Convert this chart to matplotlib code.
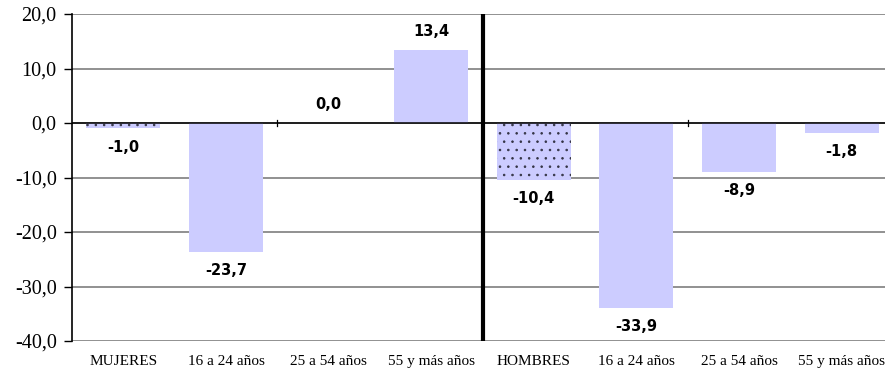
import matplotlib.pyplot as plt
import numpy as np

categories = ['MUJERES', '16 a 24 años', '25 a 54 años', '55 y más años',
              'HOMBRES', '16 a 24 años', '25 a 54 años', '55 y más años']
values = [-1.0, -23.7, 0.0, 13.4, -10.4, -33.9, -8.9, -1.8]
totals = [0, 4]  # MUJERES / HOMBRES bars get the dotted fill
yticks = [-40, -30, -20, -10, 0, 10, 20]

plt.rcParams['hatch.linewidth'] = 0.6

fig = plt.figure(figsize=(8.85, 3.76), dpi=100)
ax = fig.add_axes([72 / 885, 35 / 376, 821 / 885, 327 / 376])

x = np.arange(len(categories))
bars = ax.bar(x, values, width=0.72, color='#ccccff', linewidth=0, zorder=2)
for i in totals:
    bars[i].set_hatch('..')
    bars[i].set_edgecolor('#333344')

ax.set_xlim(-0.5, len(categories) - 0.5)
ax.set_ylim(-40, 20)
ax.set_yticks(yticks)
ax.set_yticklabels(['{:.1f}'.format(v).replace('.', ',') for v in yticks],
                   family='Liberation Serif', fontsize=14.5)
ax.set_xticks(x)
ax.set_xticklabels(categories, family='Liberation Serif', fontsize=11)
ax.tick_params(axis='x', length=0, pad=10)
ax.tick_params(axis='y', length=6, width=1, pad=5, direction='out')

ax.yaxis.grid(True, color='#888888', linewidth=1.3, zorder=0)
ax.set_axisbelow(True)
for s in ['top', 'right', 'bottom']:
    ax.spines[s].set_visible(False)
ax.spines['left'].set_linewidth(1.2)

# zero line with small category ticks
ax.axhline(0, color='black', linewidth=1.1, zorder=3)
for b in [1.5, 5.5]:
    ax.plot([b, b], [-0.6, 0.6], color='black', linewidth=0.9, zorder=3)

# separator between women and men
ax.axvline(3.5, color='black', linewidth=3, zorder=4)

for bar, v in zip(bars, values):
    off = -13.5 if v < 0 else 13.5
    ax.annotate('{:.1f}'.format(v).replace('.', ','),
                xy=(bar.get_x() + bar.get_width() / 2, v),
                xytext=(0, off), textcoords='offset points',
                ha='center', va='center', fontsize=10.5, fontweight='bold',
                family='DejaVu Sans')

plt.savefig('out.png', dpi=100)
